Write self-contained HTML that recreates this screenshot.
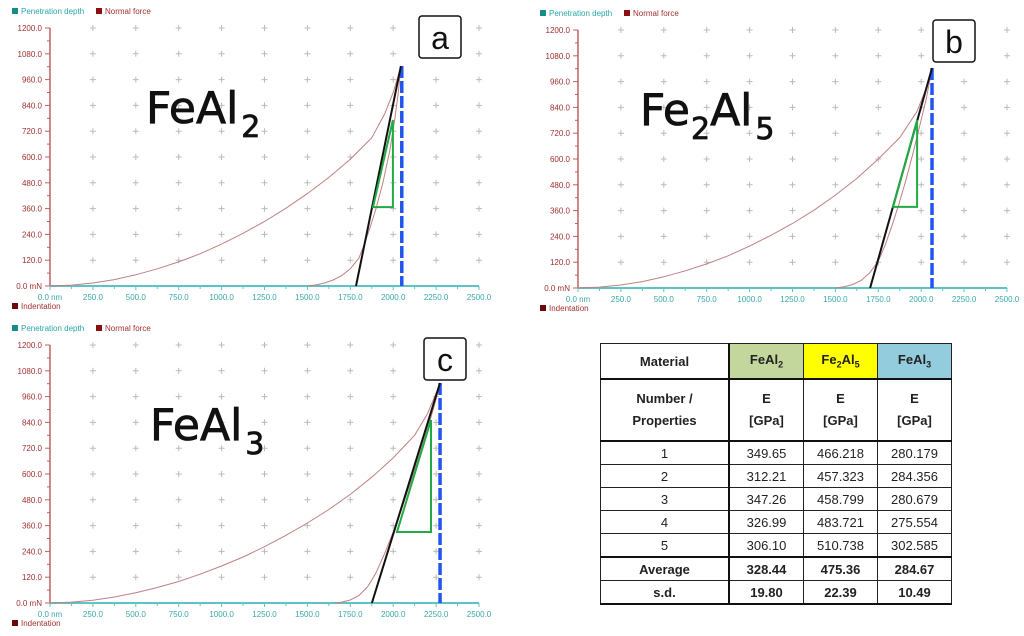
<!DOCTYPE html>
<html><head><meta charset="utf-8"><style>
body{margin:0;background:#fff;width:1024px;height:636px;overflow:hidden;font-family:"Liberation Sans",sans-serif}
svg{position:absolute;left:0;top:0}
table{position:absolute;left:600px;top:343px;border-collapse:collapse;font-family:"Liberation Sans",sans-serif;font-size:13px;color:#222}
td{border:1px solid #222;text-align:center;padding:0;height:22px}
td.c0{width:127px;border-right:2px solid #111}
td.c1,td.c2,td.c3{width:73px}
.hdr td{height:34px;font-weight:bold;border-bottom:2px solid #111}
.props td{height:60px;font-weight:bold;line-height:22px;border-bottom:2px solid #111}
.avg td{font-weight:bold;border-top:2px solid #111}
.sd td{font-weight:bold;border-bottom:2px solid #111}
</style></head><body>
<svg id="chart" width="1024" height="636"></svg>
<table>
<tr class="hdr"><td class="c0">Material</td><td class="c1" style="background:#c3d69b">FeAl<sub style="font-size:9px">2</sub></td><td class="c2" style="background:#ffff00">Fe<sub style="font-size:9px">2</sub>Al<sub style="font-size:9px">5</sub></td><td class="c3" style="background:#93cddd">FeAl<sub style="font-size:9px">3</sub></td></tr>
<tr class="props"><td class="c0">Number /<br>Properties</td><td>E<br>[GPa]</td><td>E<br>[GPa]</td><td>E<br>[GPa]</td></tr>
<tr><td class="c0">1</td><td>349.65</td><td>466.218</td><td>280.179</td></tr>
<tr><td class="c0">2</td><td>312.21</td><td>457.323</td><td>284.356</td></tr>
<tr><td class="c0">3</td><td>347.26</td><td>458.799</td><td>280.679</td></tr>
<tr><td class="c0">4</td><td>326.99</td><td>483.721</td><td>275.554</td></tr>
<tr><td class="c0">5</td><td>306.10</td><td>510.738</td><td>302.585</td></tr>
<tr class="avg"><td class="c0">Average</td><td>328.44</td><td>475.36</td><td>284.67</td></tr>
<tr class="sd"><td class="c0">s.d.</td><td>19.80</td><td>22.39</td><td>10.49</td></tr>
</table>
<script>
const xTicks=[0,250,500,750,1000,1250,1500,1750,2000,2250,2500];
const yTicks=[0,120,240,360,480,600,720,840,960,1080,1200];
// loading curves [depth nm, force mN]
const loadA=[[0,0],[125,4],[250,14],[375,30],[500,52],[625,80],[750,112],[875,150],[1000,195],[1125,245],[1250,300],[1375,362],[1500,430],[1625,505],[1750,590],[1875,690],[1950,800],[2000,900],[2045,1020]];
const unloadA=[[1500,0],[1550,5],[1600,14],[1650,28],[1700,48],[1750,80],[1800,130],[1830,190],[1860,260],[1900,360],[1940,480],[1980,630],[2010,780],[2030,900],[2045,1020]];
const tanA=[[1783,0],[2045,1023]];
const triA=[[1882,367],[1998,367],[1998,772]];
const loadB=[[0,0],[125,4],[250,14],[375,30],[500,52],[625,80],[750,112],[875,150],[1000,195],[1125,245],[1250,300],[1375,362],[1500,432],[1625,510],[1750,600],[1875,700],[1975,820],[2030,930],[2063,1020]];
const unloadB=[[1500,0],[1550,6],[1600,16],[1650,35],[1700,70],[1750,125],[1790,200],[1830,290],[1870,390],[1910,500],[1950,620],[1990,750],[2030,880],[2063,1020]];
const tanB=[[1702,0],[2063,1023]];
const triB=[[1836,377],[1976,377],[1976,781]];
const loadC=[[0,0],[125,4],[250,13],[375,28],[500,48],[625,72],[750,100],[875,134],[1000,172],[1125,214],[1250,262],[1375,315],[1500,372],[1625,435],[1750,505],[1875,585],[2000,675],[2125,780],[2200,880],[2273,1020]];
const unloadC=[[1660,0],[1700,4],[1750,14],[1800,35],[1850,75],[1900,140],[1950,230],[2000,330],[2050,440],[2100,560],[2150,680],[2200,810],[2240,920],[2273,1020]];
const tanC=[[1876,0],[2273,1023]];
const triC=[[2022,330],[2220,330],[2220,851]];
const peaks=[2050,2063,2273];
const NS='http://www.w3.org/2000/svg';
const svg=document.getElementById('chart');
function el(t,a,p){const e=document.createElementNS(NS,t);for(const k in a)e.setAttribute(k,a[k]);(p||svg).appendChild(e);return e;}
function draw(ox,oy,load,unload,tan,tri,peak,letter,formula,fx,fy,bx,by){
 const g=el('g',{});
 
 
 const X=v=>ox+v/2500*429, Y=v=>oy-v/1200*258;
 el('rect',{x:ox-38,y:oy-278,width:6,height:6,fill:'#1a8a8a'},g);
 const lt=el('text',{x:ox-29,y:oy-272,'font-size':8,fill:'#2aa6a6'},g);lt.textContent='Penetration depth';
 el('rect',{x:ox+46,y:oy-278,width:6,height:6,fill:'#8a1010'},g);
 const lt2=el('text',{x:ox+55,y:oy-272,'font-size':8,fill:'#a03030'},g);lt2.textContent='Normal force';
 el('rect',{x:ox-38,y:oy+17,width:6,height:6,fill:'#6a0a0a'},g);
 const lt3=el('text',{x:ox-29,y:oy+23,'font-size':8,fill:'#a03030'},g);lt3.textContent='Indentation';
 xTicks.forEach((t,i)=>{if(i==0)return;yTicks.forEach((u,j)=>{if(j==0)return;
   el('path',{d:`M${X(t)-3},${Y(u)}h6M${X(t)},${Y(u)-3}v6`,stroke:'#bbb','stroke-width':1},g);});});
 el('line',{x1:ox,y1:Y(1200),x2:ox,y2:oy,stroke:'#c06060','stroke-width':1.5},g);
 yTicks.forEach((u,j)=>{el('line',{x1:ox-5,y1:Y(u),x2:ox,y2:Y(u),stroke:'#c06060'},g);
   if(j<yTicks.length-1)el('line',{x1:ox-3,y1:Y(u+60),x2:ox,y2:Y(u+60),stroke:'#c06060'},g);
   const t=el('text',{x:ox-8,y:Y(u)+3,'font-size':8,fill:'#a03030','text-anchor':'end'},g);t.textContent=u.toFixed(1)+(u==0?' mN':'');});
 el('line',{x1:ox,y1:oy,x2:X(2500),y2:oy,stroke:'#5cc4c4','stroke-width':2},g);
 xTicks.forEach((t,i)=>{el('line',{x1:X(t),y1:oy,x2:X(t),y2:oy+4,stroke:'#5cc4c4'},g);
   if(i<xTicks.length-1)el('line',{x1:X(t+125),y1:oy,x2:X(t+125),y2:oy+3,stroke:'#5cc4c4'},g);
   const tx=el('text',{x:X(t),y:oy+14,'font-size':8,fill:'#3aa8a8','text-anchor':'middle'},g);tx.textContent=t.toFixed(1)+(t==0?' nm':'');});
 const pl=a=>a.map(p=>X(p[0]).toFixed(1)+','+Y(p[1]).toFixed(1)).join(' ');
 el('polyline',{points:pl(load),fill:'none',stroke:'#c08080','stroke-width':1},g);
 el('polyline',{points:pl(unload),fill:'none',stroke:'#c08080','stroke-width':1},g);
 el('line',{x1:X(peak),y1:Y(1023),x2:X(peak),y2:oy,stroke:'#2255ee','stroke-width':3.5,'stroke-dasharray':'12,3'},g);
 el('polyline',{points:pl(tan),fill:'none',stroke:'#111','stroke-width':2},g);
 el('polygon',{points:pl(tri),fill:'none',stroke:'#22aa44','stroke-width':2},g);
 el('rect',{x:bx,y:by,width:42,height:42,rx:3,fill:'#fff',stroke:'#111','stroke-width':1.5},g);
 const lb=el('text',{x:bx+21,y:by+33,'font-size':32,'text-anchor':'middle',fill:'#111'},g);lb.textContent=letter;
 const f=el('text',{x:fx,y:fy,'font-size':44,'font-family':'DejaVu Sans, sans-serif',fill:'#111','stroke':'#111','stroke-width':0.8},g);f.innerHTML=formula;
}
draw(50,286,loadA,unloadA,tanA,triA,peaks[0],'a','FeAl<tspan font-size="30" dx="3" dy="14">2</tspan>',146,123,419,16);
draw(578,288,loadB,unloadB,tanB,triB,peaks[1],'b','Fe<tspan font-size="30" dx="1" dy="14">2</tspan><tspan dy="-14">Al</tspan><tspan font-size="30" dx="3" dy="14">5</tspan>',640,125,933,20);
draw(50,603,loadC,unloadC,tanC,triC,peaks[2],'c','FeAl<tspan font-size="30" dx="3" dy="14">3</tspan>',150,440,424,338);
</script>
</body></html>
